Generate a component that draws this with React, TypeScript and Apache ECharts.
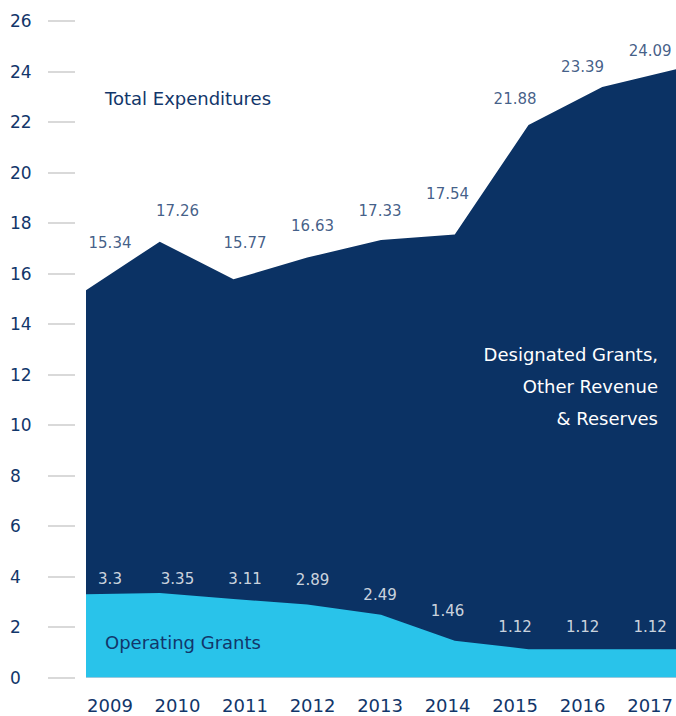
import React, { useEffect, useRef } from "react";
import * as echarts from "echarts";

const years = ["2009", "2010", "2011", "2012", "2013", "2014", "2015", "2016", "2017"];
const totalExpenditures = [15.34, 17.26, 15.77, 16.63, 17.33, 17.54, 21.88, 23.39, 24.09];
const operatingGrants = [3.3, 3.35, 3.11, 2.89, 2.49, 1.46, 1.12, 1.12, 1.12];
const yMin = 0;
const yMax = 26;
const yStep = 2;

// label placement (pixels above each value, layout only)
const totalLabelLift = [-47, -31, -36, -32, -29, -41, -26, -20, -18];
const operatingLabelLift = [-15, -14, -20, -25, -20, -30, -22, -22, -22];

const NAVY_AREA = "#0b3264";
const CYAN_AREA = "#29c3ea";
const TEXT_NAVY = "#12366a";
const FONT = "'DejaVu Sans', Inter, sans-serif";

export default function App() {
  const ref = useRef<HTMLDivElement>(null);
  useEffect(() => {
    if (!ref.current) return;
    const chart = echarts.init(ref.current, undefined, { renderer: "svg" });
    const gridTop = 21;
    const gridBottom = 38.5;
    chart.setOption({
      animation: false,
      backgroundColor: "#ffffff",
      textStyle: { fontFamily: FONT },
      grid: [
        { left: 86, right: 0, top: gridTop, bottom: gridBottom },
        { left: 110, right: 25, top: gridTop, bottom: gridBottom },
      ],
      xAxis: [
        {
          gridIndex: 0,
          type: "category",
          data: years,
          boundaryGap: false,
          axisLine: { show: false },
          axisTick: { show: false },
          axisLabel: { show: false },
          splitLine: { show: false },
        },
        {
          gridIndex: 1,
          type: "category",
          data: years,
          boundaryGap: false,
          axisLine: { show: false },
          axisTick: { show: false },
          axisLabel: { color: TEXT_NAVY, fontSize: 18, margin: 19, fontFamily: FONT },
          splitLine: { show: false },
        },
      ],
      yAxis: [
        {
          gridIndex: 0,
          type: "value",
          min: yMin,
          max: yMax,
          interval: yStep,
          offset: 11,
          axisLine: { show: false },
          axisTick: { show: true, length: 27, lineStyle: { color: "#cccccc", width: 1.5 } },
          axisLabel: { color: TEXT_NAVY, fontSize: 17, align: "left", margin: 65, fontFamily: FONT },
          splitLine: { show: false },
        },
        {
          gridIndex: 1,
          type: "value",
          min: yMin,
          max: yMax,
          interval: yStep,
          show: false,
        },
      ],
      series: [
        {
          name: "Total Expenditures",
          type: "line",
          xAxisIndex: 0,
          yAxisIndex: 0,
          data: totalExpenditures,
          showSymbol: false,
          lineStyle: { width: 0 },
          areaStyle: { color: NAVY_AREA, opacity: 1 },
          z: 1,
        },
        {
          name: "Operating Grants",
          type: "line",
          xAxisIndex: 0,
          yAxisIndex: 0,
          data: operatingGrants,
          showSymbol: false,
          lineStyle: { width: 0 },
          areaStyle: { color: CYAN_AREA, opacity: 1 },
          z: 2,
        },
        {
          type: "scatter",
          xAxisIndex: 1,
          yAxisIndex: 1,
          symbolSize: 0,
          z: 5,
          data: totalExpenditures.map((v, i) => ({
            value: v,
            label: { offset: [0, totalLabelLift[i]] },
          })),
          label: {
            show: true,
            position: "inside",
            color: TEXT_NAVY,
            fontSize: 15,
            fontFamily: FONT,
            formatter: (p: any) => String(p.value),
          },
        },
        {
          type: "scatter",
          xAxisIndex: 1,
          yAxisIndex: 1,
          symbolSize: 0,
          z: 5,
          data: operatingGrants.map((v, i) => ({
            value: v,
            label: { offset: [0, operatingLabelLift[i]] },
          })),
          label: {
            show: true,
            position: "inside",
            color: "#ffffff",
            fontSize: 15,
            fontFamily: FONT,
            formatter: (p: any) => String(p.value),
          },
        },
      ],
      graphic: [
        {
          type: "text",
          x: 105,
          y: 98,
          style: {
            text: "Total Expenditures",
            fill: TEXT_NAVY,
            fontSize: 18,
            fontFamily: FONT,
            align: "left",
            verticalAlign: "middle",
          },
        },
        {
          type: "text",
          x: 105,
          y: 642,
          z: 10,
          style: {
            text: "Operating Grants",
            fill: TEXT_NAVY,
            fontSize: 18,
            fontFamily: FONT,
            align: "left",
            verticalAlign: "middle",
          },
        },
        {
          type: "text",
          x: 658,
          y: 338,
          z: 10,
          style: {
            text: "Designated Grants,\nOther Revenue\n& Reserves",
            fill: "#ffffff",
            fontSize: 18,
            lineHeight: 32,
            align: "right",
            verticalAlign: "top",
            fontFamily: FONT,
          },
        },
      ],
    });
    return () => chart.dispose();
  }, []);
  return (
    <div
      ref={ref}
      style={{ position: "absolute", left: 0, top: 0, width: 676, height: 716 }}
    />
  );
}
